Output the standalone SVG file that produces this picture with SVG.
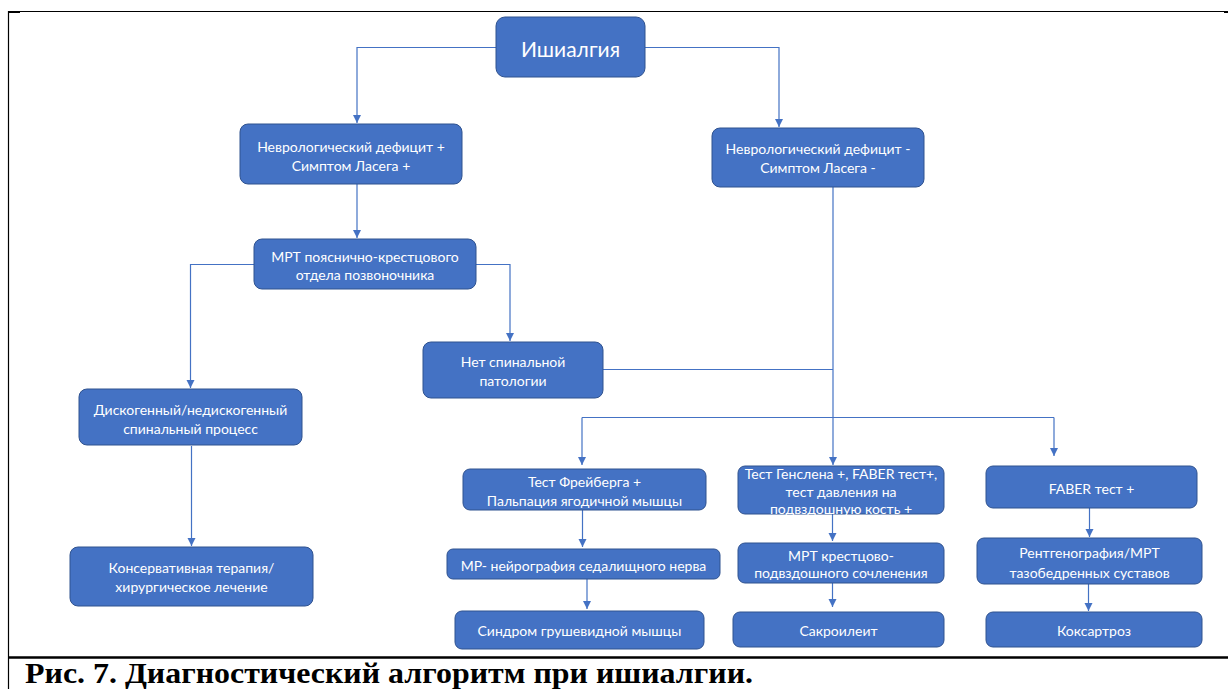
<svg xmlns="http://www.w3.org/2000/svg" width="1228" height="689" viewBox="0 0 1228 689">
<style>
.n rect{fill:#4472C4;stroke:#2F528F;stroke-width:1}
.n text{fill:#fff;font-family:Lato,"Liberation Sans",sans-serif;font-size:14px;text-anchor:middle;dominant-baseline:central}
.c path{fill:none;stroke:#4472C4;stroke-width:1.2}
.a{marker-end:url(#ah)}
.cap{font-family:"Liberation Serif",serif;font-weight:bold;font-size:29px;fill:#000}
</style>
<defs>
<marker id="ah" markerUnits="userSpaceOnUse" markerWidth="8" markerHeight="9" refX="8" refY="4" orient="auto">
<path d="M0,0 L8,4 L0,8 Z" fill="#4472C4"/>
</marker>
</defs>
<rect width="1228" height="689" fill="#fff"/>
<g id="frame">
<line x1="8.5" y1="11" x2="8.5" y2="689" stroke="#000" stroke-width="1.2"/>
<line x1="8" y1="11.5" x2="1224" y2="11.5" stroke="#000" stroke-width="1"/>
<rect x="8" y="11" width="12" height="2" fill="#000"/>
<rect x="1224" y="11" width="4" height="2" fill="#000"/>
<line x1="8" y1="657.5" x2="1228" y2="657.5" stroke="#000" stroke-width="2.5"/>
</g>
<g id="connectors" class="c">
<path class="a" d="M496,47.5 H357 V123"/>
<path class="a" d="M645,47.5 H779 V127"/>
<path class="a" d="M357,184 V238"/>
<path class="a" d="M254,264.5 H190.5 V388"/>
<path class="a" d="M476,264.5 H510 V341"/>
<path class="a" d="M191.5,446 V546"/>
<path class="a" d="M833,187 V465"/>
<path d="M603,369.5 H833"/>
<path d="M582,417.5 H1054"/>
<path class="a" d="M582,417.5 V465"/>
<path class="a" d="M1054,417.5 V456"/>
<path class="a" d="M582.5,510 V547"/>
<path class="a" d="M587,579 V609"/>
<path class="a" d="M832.5,514 V541"/>
<path class="a" d="M832.5,583 V607"/>
<path class="a" d="M1089.5,508 V537"/>
<path class="a" d="M1088.5,584 V611"/>
</g>
<g id="n-ishialgia" class="n">
<rect x="496" y="17" width="149" height="60" rx="9"/>
<text x="570.5" y="48" style="font-size:21px">Ишиалгия</text>
</g>
<g id="n-def-plus" class="n">
<rect x="240" y="124" width="222" height="60" rx="8"/>
<text x="351" y="146">Неврологический дефицит +</text>
<text x="351" y="165">Симптом Ласега +</text>
</g>
<g id="n-def-minus" class="n">
<rect x="712" y="128" width="212" height="59" rx="8"/>
<text x="818" y="148">Неврологический дефицит -</text>
<text x="818" y="167">Симптом Ласега -</text>
</g>
<g id="n-mrt" class="n">
<rect x="254" y="239" width="222" height="50" rx="8"/>
<text x="365" y="256">МРТ пояснично-крестцового</text>
<text x="365" y="274.5">отдела позвоночника</text>
</g>
<g id="n-nospinal" class="n">
<rect x="423" y="342" width="180" height="56" rx="8"/>
<text x="513" y="361">Нет спинальной</text>
<text x="513" y="380">патологии</text>
</g>
<g id="n-disco" class="n">
<rect x="79" y="389" width="223" height="56" rx="8"/>
<text x="190.5" y="409.5">Дискогенный/недискогенный</text>
<text x="190.5" y="428.5">спинальный процесс</text>
</g>
<g id="n-conserv" class="n">
<rect x="70" y="547" width="243" height="59" rx="8"/>
<text x="191.5" y="567">Консервативная терапия/</text>
<text x="191.5" y="586">хирургическое лечение</text>
</g>
<g id="n-freiberg" class="n">
<rect x="463" y="469" width="243" height="41" rx="7"/>
<text x="584.5" y="481">Тест Фрейберга +</text>
<text x="584.5" y="500">Пальпация ягодичной мышцы</text>
</g>
<g id="n-mrneuro" class="n">
<rect x="447" y="549" width="273" height="30" rx="6"/>
<text x="583.5" y="565">МР- нейрография седалищного нерва</text>
</g>
<g id="n-piriformis" class="n">
<rect x="455" y="611" width="249" height="38" rx="7"/>
<text x="579.5" y="630">Синдром грушевидной мышцы</text>
</g>
<g id="n-genslen" class="n">
<rect x="738" y="466" width="206" height="48" rx="7"/>
<text x="841" y="473">Тест Генслена +, FABER тест+,</text>
<text x="841" y="491">тест давления на</text>
<text x="841" y="508">подвздошную кость +</text>
</g>
<g id="n-mrtsi" class="n">
<rect x="738" y="543" width="206" height="40" rx="7"/>
<text x="841" y="555">МРТ крестцово-</text>
<text x="841" y="572.5">подвздошного сочленения</text>
</g>
<g id="n-sacro" class="n">
<rect x="733" y="612" width="211" height="35" rx="7"/>
<text x="838.5" y="630">Сакроилеит</text>
</g>
<g id="n-faber" class="n">
<rect x="986" y="466" width="211" height="42" rx="7"/>
<text x="1091.5" y="488">FABER тест +</text>
</g>
<g id="n-xray" class="n">
<rect x="977" y="538" width="225" height="46" rx="7"/>
<text x="1089.5" y="552.5">Рентгенография/МРТ</text>
<text x="1089.5" y="572">тазобедренных суставов</text>
</g>
<g id="n-coxarthrosis" class="n">
<rect x="986" y="612" width="216" height="35" rx="7"/>
<text x="1094" y="630">Коксартроз</text>
</g>
<text class="cap" x="25" y="683" textLength="728" lengthAdjust="spacingAndGlyphs">Рис. 7. Диагностический алгоритм при ишиалгии.</text>
</svg>
